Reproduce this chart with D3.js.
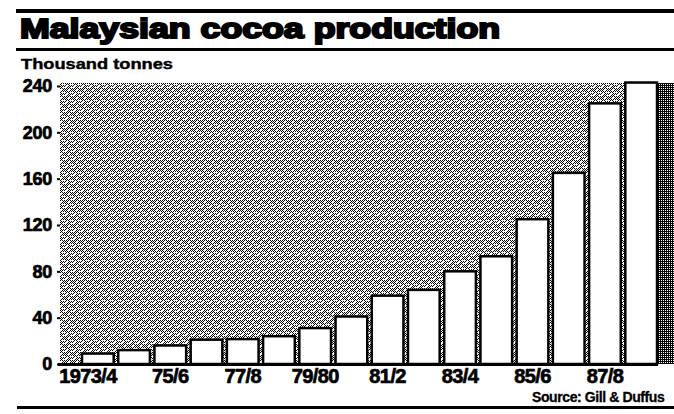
<!DOCTYPE html>
<html><head><meta charset="utf-8">
<script src="https://cdn.jsdelivr.net/npm/d3@7"></script>
<style>body{margin:0;background:#fff}svg{display:block}</style></head>
<body><svg id="c" width="674" height="414"></svg>
<script>
const categories = ["1973/4","74/5","75/6","76/7","77/8","78/9","79/80","80/1","81/2","82/3","83/4","84/5","85/6","86/7","87/8","88/9"];
const production = [9,12,16,21,21.5,24,31,41,59,64,80,93,125,165,225,243];
const tickLabels = ["1973/4","75/6","77/8","79/80","81/2","83/4","85/6","87/8"];
const yTicks = [0,40,80,120,160,200,240];
const title = "Malaysian cocoa production";
const subtitle = "Thousand tonnes";
const source = "Source: Gill & Duffus";

const data = categories.map((c,i)=>({cat:c, v:production[i]}));
const svg = d3.select("#c");
const font = "'Liberation Sans', Arial, sans-serif";

const x = d3.scaleBand().domain(categories).range([81, 658]).paddingInner(0.07).paddingOuter(0);
const y = d3.scaleLinear().domain([0, 240]).range([364, 86]);

// patterns (halftone-like texture)
const defs = svg.append("defs");
const p1 = defs.append("pattern").attr("id","dots").attr("width",8).attr("height",8).attr("patternUnits","userSpaceOnUse");
p1.append("rect").attr("width",8).attr("height",8).attr("fill","#fff");
[[0,0],[2,0],[4,0],[6,0],[1,1],[3,1],[7,1],[0,2],[2,2],[6,2],[1,3],[3,3],[5,3],[7,3],
 [2,4],[4,4],[1,5],[5,5],[7,5],[0,6],[4,6],[6,6],[3,7],[5,7]].forEach(([a,b])=>
  p1.append("rect").attr("x",a).attr("y",b).attr("width",1).attr("height",1).attr("fill","#000"));
const p2 = defs.append("pattern").attr("id","dense").attr("width",2).attr("height",2).attr("patternUnits","userSpaceOnUse");
p2.append("rect").attr("width",2).attr("height",2).attr("fill","#000");
p2.append("rect").attr("x",1).attr("y",0).attr("width",1).attr("height",1).attr("fill","#fff");

const bgTop = y(243);
svg.append("rect").attr("x",60).attr("y",bgTop).attr("width",658-60).attr("height",y(0)-bgTop)
  .attr("fill","url(#dots)").attr("shape-rendering","crispEdges");
svg.append("rect").attr("x",658).attr("y",bgTop).attr("width",674-658).attr("height",y(0)-bgTop)
  .attr("fill","url(#dense)").attr("shape-rendering","crispEdges");

// bars
svg.append("g").selectAll("rect").data(data).join("rect")
  .attr("x",d=>x(d.cat)+1).attr("width",x.bandwidth()-2)
  .attr("y",d=>y(d.v)).attr("height",d=>y(0)-y(d.v))
  .attr("fill","#fff").attr("stroke","#000").attr("stroke-width",2.5);

// baseline
svg.append("line").attr("x1",58).attr("x2",658).attr("y1",y(0)+0.5).attr("y2",y(0)+0.5)
  .attr("stroke","#000").attr("stroke-width",3);

// y axis
const ya = svg.append("g").attr("transform","translate(60,0)")
  .call(d3.axisLeft(y).tickValues(yTicks).tickSize(3).tickPadding(5));
ya.select(".domain").remove();
ya.selectAll("line").attr("stroke","#000").attr("stroke-width",2);
ya.selectAll("text").attr("font-family",font).attr("font-weight","bold").attr("font-size",18)
  .attr("letter-spacing",-0.3).attr("fill","#000").attr("stroke","#000").attr("stroke-width",0.7);

// x axis
const xa = svg.append("g").attr("transform",`translate(0,${y(0)})`)
  .call(d3.axisBottom(x).tickValues(tickLabels).tickSize(0).tickPadding(5));
xa.select(".domain").remove();
xa.selectAll("text").attr("font-family",font).attr("font-weight","bold").attr("font-size",20)
  .attr("letter-spacing",-0.6).attr("fill","#000").attr("stroke","#000").attr("stroke-width",0.7);
xa.selectAll(".tick").filter(d=>d==="1973/4").select("text")
  .attr("text-anchor","end").attr("x",19);

// rules
svg.append("rect").attr("x",16).attr("y",9).attr("width",658).attr("height",4).attr("fill","#000");
svg.append("rect").attr("x",16).attr("y",48).attr("width",658).attr("height",3).attr("fill","#000");
svg.append("rect").attr("x",17).attr("y",406).attr("width",657).attr("height",3).attr("fill","#000");

// texts
svg.append("text").attr("x",20).attr("y",38).text(title)
  .attr("font-family",font).attr("font-weight","bold").attr("font-size",27)
  .attr("textLength",480).attr("lengthAdjust","spacingAndGlyphs")
  .attr("fill","#000").attr("stroke","#000").attr("stroke-width",2);
svg.append("text").attr("x",21).attr("y",69).text(subtitle)
  .attr("font-family",font).attr("font-weight","bold").attr("font-size",15)
  .attr("textLength",152).attr("lengthAdjust","spacingAndGlyphs")
  .attr("fill","#000").attr("stroke","#000").attr("stroke-width",0.4);
svg.append("text").attr("x",532).attr("y",402).text(source)
  .attr("font-family",font).attr("font-weight","bold").attr("font-size",14)
  .attr("letter-spacing",-0.4).attr("fill","#000").attr("stroke","#000").attr("stroke-width",0.3);
</script></body></html>
